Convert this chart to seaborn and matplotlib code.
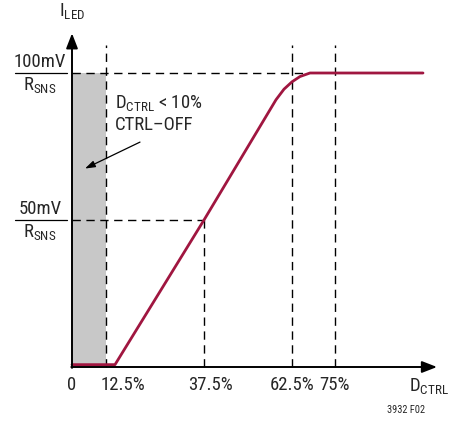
import matplotlib
matplotlib.use("Agg")
import matplotlib.pyplot as plt
import seaborn as sns
import pandas as pd
from matplotlib.patches import Rectangle
from matplotlib import font_manager

# ---- data (schematic positions: x in drawing units, y in mV) ----
tick_labels = ["0", "12.5%", "37.5%", "62.5%", "75%"]
tick_pos = [0, 34, 132, 220, 263]
curve_x = [0, 43, 132, 204, 212, 220, 228, 238, 351]
curve_y = [0.8, 0.8, 50, 90.9, 94.5, 97.0, 98.8, 100, 100]
level_vals = [50, 100]
level_labels = ["50mV", "100mV"]

sns.set_style("white")
entries = font_manager.fontManager.ttflist
names = {f.name for f in entries}
stretch = "normal"
fam = ["Liberation Sans", "DejaVu Sans"]
for cand in ["Liberation Sans Narrow", "Roboto Condensed", "Open Sans Condensed",
             "Noto Sans Condensed", "DejaVu Sans Condensed"]:
    if cand in names:
        fam = [cand, "DejaVu Sans"]
        break
else:
    for f in entries:
        if f.name in ("Roboto", "Noto Sans", "Open Sans", "Liberation Sans", "DejaVu Sans") and \
                str(f.stretch) in ("condensed", "semi-condensed", "extra-condensed", "75", "87.5"):
            fam = [f.name, "DejaVu Sans"]
            stretch = f.stretch
            break
plt.rcParams["font.family"] = fam
plt.rcParams["font.stretch"] = stretch
cond = fam[0] != "Liberation Sans"

fig = plt.figure(figsize=(4.52, 4.21), dpi=100)
ax = fig.add_axes([0, 0, 1, 1])
ax.set_xlim(-72, 380)
ax.set_ylim(-54 / 2.94, 367 / 2.94)
ax.axis("off")

# shaded CTRL-OFF region
ax.add_patch(Rectangle((0, 0), tick_pos[1], level_vals[1], facecolor="#c8c8c8",
                       edgecolor="none", zorder=0))

dash = dict(color="black", lw=1.0, dashes=(6, 4), zorder=1)
top = 109.5
for xp in [tick_pos[1], tick_pos[3], tick_pos[4]]:
    ax.plot([xp, xp], [0, top], **dash)
ax.plot([tick_pos[2], tick_pos[2]], [0, level_vals[0]], **dash)
ax.plot([0, 232], [level_vals[1], level_vals[1]], **dash)
ax.plot([0, tick_pos[2]], [level_vals[0], level_vals[0]], **dash)

# curve
df = pd.DataFrame({"x": curve_x, "y": curve_y})
sns.lineplot(data=df, x="x", y="y", ax=ax, color="#a01640", lw=2.0,
             sort=False, estimator=None, zorder=3)

# axes with arrows
ax.annotate("", xy=(0, 113.5), xytext=(0, -0.3),
            arrowprops=dict(arrowstyle="-|>,head_length=0.9,head_width=0.35",
                            color="black", lw=1.4, shrinkA=0, shrinkB=0), zorder=4)
ax.annotate("", xy=(365, 0), xytext=(-0.7, 0),
            arrowprops=dict(arrowstyle="-|>,head_length=0.9,head_width=0.35",
                            color="black", lw=1.4, shrinkA=0, shrinkB=0), zorder=4)

fs = 13.5 if cond else 12.0
# tick labels (label centres are offset from the guide lines as in the original)
label_shift = [0, 17, 7, 0, 0]
for p, s, l in zip(tick_pos, label_shift, tick_labels):
    ax.text(p + s, -6.2, l, ha="center", va="center", fontsize=fs)
ax.text(357, -6.8, r"D$_\mathregular{CTRL}$", ha="center", va="center", fontsize=fs)
ax.text(0, 117.5, r"I$_\mathregular{LED}$", ha="center", va="bottom", fontsize=fs)

# fraction labels
for v, l in zip(level_vals, level_labels):
    ax.text(-32, v + 0.8, l, ha="center", va="bottom", fontsize=fs)
    ax.plot([-57, -5], [v, v], color="black", lw=0.9)
    ax.text(-32, v - 0.8, r"R$_\mathregular{SNS}$", ha="center", va="top", fontsize=fs)

# annotation
ax.text(43, 89.5, r"D$_\mathregular{CTRL}$ < 10%", ha="left", va="center", fontsize=fs)
ax.text(43, 82.2, "CTRL\u2013OFF", ha="left", va="center", fontsize=fs)
ax.annotate("", xy=(13, 67.5), xytext=(68, 76.5),
            arrowprops=dict(arrowstyle="-|>,head_length=0.6,head_width=0.2",
                            color="black", lw=0.9, shrinkA=0, shrinkB=0))

ax.text(334, -14.6, "3932 F02", ha="center", va="center", fontsize=7.5)

fig.savefig("out.png", dpi=100)
